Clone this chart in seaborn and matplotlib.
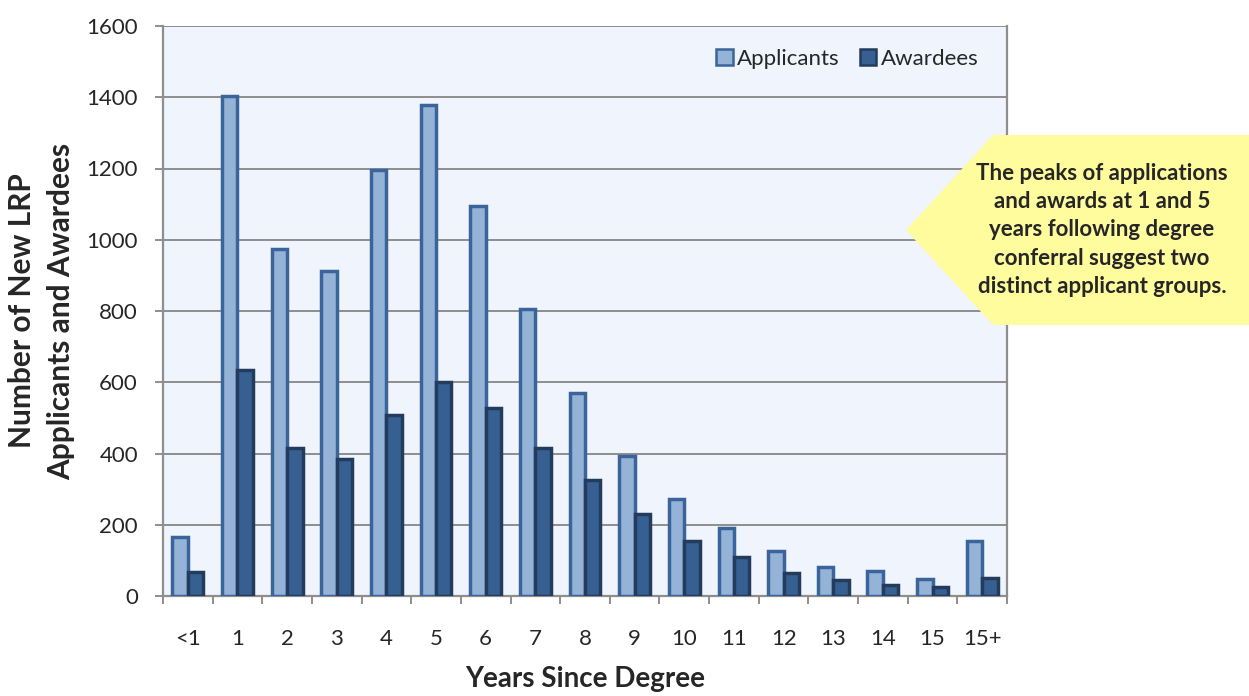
import matplotlib
matplotlib.use("Agg")
import matplotlib.pyplot as plt
import seaborn as sns
import pandas as pd
import numpy as np
from matplotlib.patches import Polygon, Patch

categories = ["<1", "1", "2", "3", "4", "5", "6", "7", "8", "9", "10", "11", "12", "13", "14", "15", "15+"]
applicants = [165, 1403, 974, 912, 1196, 1378, 1094, 806, 570, 393, 272, 191, 126, 81, 70, 48, 154]
awardees = [67, 634, 415, 385, 508, 600, 528, 415, 326, 230, 154, 110, 65, 45, 31, 25, 51]
series_names = ["Applicants", "Awardees"]
y_ticks = [0, 200, 400, 600, 800, 1000, 1200, 1400, 1600]
note = ("The peaks of applications\nand awards at 1 and 5\nyears following degree\n"
        "conferral suggest two\ndistinct applicant groups.")

df = pd.DataFrame({
    "Years": categories * 2,
    "Count": applicants + awardees,
    "Series": [series_names[0]] * len(categories) + [series_names[1]] * len(categories),
})

sns.set_style("white")
plt.rcParams["font.family"] = ["Lato", "DejaVu Sans"]

fills = {"Applicants": "#95B3D7", "Awardees": "#366092"}
edges = {"Applicants": "#3B659A", "Awardees": "#233C5E"}

fig = plt.figure(figsize=(12.49, 6.96), dpi=100)
W, H = 1249, 696
ax = fig.add_axes([163 / W, 1 - 596 / H, (1007 - 163) / W, (596 - 26) / H])
ax.set_facecolor("#EFF4FD")

sns.barplot(data=df, x="Years", y="Count", hue="Series", order=categories,
            hue_order=series_names, palette=fills, width=0.62, ax=ax,
            legend=False, saturation=1)

for cont, name in zip(ax.containers, series_names):
    for bar in cont:
        bar.set_edgecolor(edges[name])
        bar.set_linewidth(2.5)
        bar.set_zorder(3)

ax.set_ylim(0, 1600)
ax.set_xlim(-0.5, len(categories) - 0.5)
ax.set_yticks(y_ticks)
ax.yaxis.grid(True, color="#8E8E8E", linewidth=1.4, zorder=0)
ax.set_axisbelow(True)
for s in ["left", "right", "bottom"]:
    ax.spines[s].set_color("#8E8E8E")
    ax.spines[s].set_linewidth(1.6)
ax.spines["top"].set_visible(False)

ax.tick_params(axis="y", which="major", length=6, width=1.4, color="#8E8E8E",
               labelsize=16, pad=12, direction="out", left=True)
ax.set_xticks(np.arange(len(categories)))
ax.set_xticklabels(categories)
ax.set_xticks(np.arange(len(categories) + 1) - 0.5, minor=True)
ax.tick_params(axis="x", which="major", length=0, labelsize=16, pad=24)
ax.tick_params(axis="x", which="minor", length=6, width=1.4, color="#8E8E8E",
               direction="out", bottom=True)

ax.set_xlabel("Years Since Degree", fontsize=20, fontweight="bold", labelpad=12)
ax.set_ylabel("Number of New LRP\nApplicants and Awardees", fontsize=21.5,
              fontweight="bold", labelpad=8, linespacing=1.5)

handles = [Patch(facecolor=fills[n], edgecolor=edges[n], linewidth=1.8) for n in series_names]
ax.legend(handles, series_names, loc="upper right", bbox_to_anchor=(0.99, 0.995),
          ncol=2, frameon=False, fontsize=16, handlelength=0.75, handleheight=0.75,
          handletextpad=0.2, columnspacing=0.9)

pts = [(906, 230), (993, 135), (1249, 135), (1249, 325), (993, 325)]
poly = Polygon([(x / W, 1 - y / H) for x, y in pts], closed=True,
               transform=fig.transFigure, facecolor="#FFFC9E", edgecolor="none",
               zorder=5, clip_on=False)
fig.patches.append(poly)
fig.text(1102 / W, 1 - 230 / H, note, ha="center", va="center", fontsize=16,
         fontweight="bold", linespacing=1.42, zorder=6)

fig.savefig("out.png", dpi=100)
